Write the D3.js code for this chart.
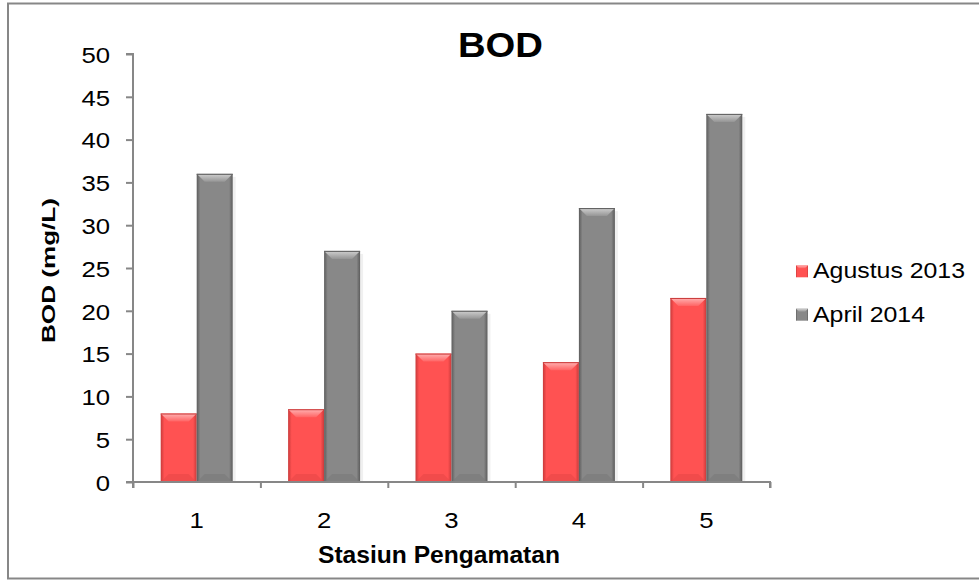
<!DOCTYPE html>
<html><head><meta charset="utf-8">
<script src="https://cdn.jsdelivr.net/npm/d3@7"></script>
<style>body{margin:0;background:#fff}svg{display:block}text{font-family:"Liberation Sans",Arial,sans-serif}</style>
</head><body>
<svg id="c" width="979" height="581"></svg>
<script>
const categories = ["1","2","3","4","5"];
const seriesNames = ["Agustus 2013","April 2014"];
const agustus2013 = [8, 8.5, 15, 14, 21.5];
const april2014 = [36, 27, 20, 32, 43];
const yTicks = [0,5,10,15,20,25,30,35,40,45,50];
const titleText = "BOD";
const xTitle = "Stasiun Pengamatan";
const yTitle = "BOD (mg/L)";

(function(){
const svg = d3.select("#c");
const axisCol = "#878787";
const pLeft = 133, pRight = 770, pTop = 54, pBottom = 482;

svg.append("rect").attr("x",8).attr("y",3.5).attr("width",990).attr("height",575)
  .attr("fill","#fff").attr("stroke",axisCol).attr("stroke-width",2);

const y = d3.scaleLinear().domain([0,50]).range([pBottom, pTop]);
const x0 = d3.scaleBand().domain(categories).range([pLeft,pRight]).padding(0);
const groupW = x0.bandwidth()*0.565;
const x1 = d3.scaleBand().domain(seriesNames).range([0,groupW]).padding(0);
const xb = d3.scaleLinear().domain([0,categories.length]).range([pLeft,pRight]);

const defs = svg.append("defs");
const pal = {
  "Agustus 2013": {main:"#ff5252", edge:"#c93a3a", hi1:"#ffb3b3", hi2:"#ff6464", bot:"#e84848"},
  "April 2014": {main:"#888888", edge:"#5c5c5c", hi1:"#d0d0d0", hi2:"#959595", bot:"#7a7a7a"}
};
seriesNames.forEach((s,i)=>{
  const p = pal[s];
  const g = defs.append("linearGradient").attr("id","h"+i).attr("x1","0").attr("x2","1").attr("y1","0").attr("y2","0");
  g.append("stop").attr("offset","0").attr("stop-color",p.edge);
  g.append("stop").attr("offset","0.1").attr("stop-color",p.main);
  g.append("stop").attr("offset","0.9").attr("stop-color",p.main);
  g.append("stop").attr("offset","1").attr("stop-color",p.edge);
  const t = defs.append("linearGradient").attr("id","t"+i).attr("x1","0").attr("x2","0").attr("y1","0").attr("y2","1");
  t.append("stop").attr("offset","0").attr("stop-color",p.hi1);
  t.append("stop").attr("offset","1").attr("stop-color",p.hi2);
});

const data = categories.map((c,i)=>({c, vals:[agustus2013[i], april2014[i]]}));
const groups = svg.append("g").selectAll("g").data(data).join("g")
  .attr("transform", d=>`translate(${x0(d.c)+(x0.bandwidth()-groupW)/2},0)`);
groups.each(function(d){
  const g = d3.select(this);
  d.vals.forEach((v,i)=>{
    const s = seriesNames[i], p = pal[s];
    const bx = x1(s), bw = x1.bandwidth(), by = y(v), bh = pBottom - y(v);
    g.append("rect").attr("x",bx+bw-1).attr("y",by+3).attr("width",4).attr("height",bh-3).attr("fill","#000").attr("opacity",0.06);
    g.append("rect").attr("x",bx).attr("y",by).attr("width",bw).attr("height",bh).attr("fill",`url(#h${i})`);
    const c = Math.min(8, bh/2);
    g.append("path").attr("d",`M${bx},${by}L${bx+bw},${by}L${bx+bw-c},${by+c}L${bx+c},${by+c}Z`).attr("fill",`url(#t${i})`);
    g.append("path").attr("d",`M${bx},${pBottom}L${bx+bw},${pBottom}L${bx+bw-c},${pBottom-c}L${bx+c},${pBottom-c}Z`).attr("fill",p.bot).attr("opacity",0.6);
    g.append("line").attr("x1",bx).attr("x2",bx+bw).attr("y1",by+0.5).attr("y2",by+0.5).attr("stroke",p.edge).attr("stroke-width",1);
  });
});

const ya = svg.append("g").attr("transform",`translate(${pLeft},0)`)
  .call(d3.axisLeft(y).tickValues(yTicks).tickSize(7).tickPadding(0));
ya.select(".domain").attr("stroke",axisCol).attr("stroke-width",2).attr("d",`M-7,${pTop}H0V${pBottom}H-7`);
ya.selectAll(".tick line").attr("stroke",axisCol).attr("stroke-width",2);
ya.selectAll(".tick text").attr("x",-20.5).attr("dy","0.36em").attr("font-size",23).attr("fill","#000")
  .attr("transform","scale(1.12,1)");

const xa = svg.append("g").attr("transform",`translate(0,${pBottom})`)
  .call(d3.axisBottom(xb).tickValues(d3.range(categories.length+1)).tickSize(6).tickFormat(""));
xa.select(".domain").attr("stroke",axisCol).attr("stroke-width",2).attr("d",`M${pLeft},6V0H${pRight}V6`);
xa.selectAll(".tick line").attr("stroke",axisCol).attr("stroke-width",2);

const xl = svg.append("g").attr("transform",`translate(0,${pBottom})`);
xl.selectAll("text").data(categories).join("text")
  .attr("transform", d=>`translate(${x0(d)+x0.bandwidth()/2},46) scale(1.12,1)`)
  .attr("text-anchor","middle").attr("font-size",23).attr("fill","#000").text(d=>d);

svg.append("text").attr("x",500.5).attr("y",57).attr("text-anchor","middle").attr("font-size",35)
  .attr("font-weight","bold").attr("textLength",85).attr("lengthAdjust","spacingAndGlyphs").text(titleText);
svg.append("text").attr("x",318).attr("y",563).attr("font-size",23.5)
  .attr("font-weight","bold").attr("textLength",242).attr("lengthAdjust","spacingAndGlyphs").text(xTitle);
svg.append("text").attr("transform","translate(55,270.5) rotate(-90)").attr("text-anchor","middle").attr("font-size",18.6)
  .attr("font-weight","bold").attr("textLength",145).attr("lengthAdjust","spacingAndGlyphs").text(yTitle);

const leg = svg.append("g");
const legY = [278.3, 321.7];
const legLen = [152, 112];
seriesNames.forEach((s,i)=>{
  leg.append("rect").attr("x",796).attr("y",legY[i]-13).attr("width",12).attr("height",12).attr("fill",`url(#h${i})`);
  leg.append("path").attr("d",`M796,${legY[i]-13}h12l-3,3h-6z`).attr("fill",`url(#t${i})`);
  leg.append("text").attr("x",813).attr("y",legY[i]).attr("font-size",22).attr("fill","#000")
    .attr("textLength",legLen[i]).attr("lengthAdjust","spacingAndGlyphs").text(s);
});
})();
</script>
</body></html>
